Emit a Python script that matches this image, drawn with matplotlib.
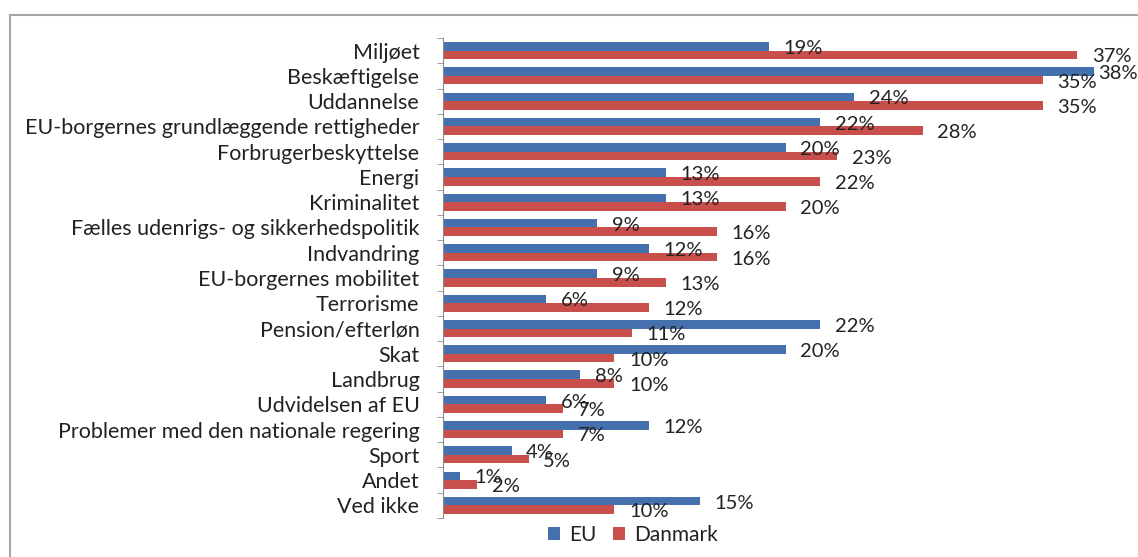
import matplotlib.pyplot as plt
import matplotlib.patches as mpatches
import numpy as np

# Data
kategorier = ['Miljøet', 'Beskæftigelse', 'Uddannelse',
              'EU-borgernes grundlæggende rettigheder', 'Forbrugerbeskyttelse',
              'Energi', 'Kriminalitet', 'Fælles udenrigs- og sikkerhedspolitik',
              'Indvandring', 'EU-borgernes mobilitet', 'Terrorisme',
              'Pension/efterløn', 'Skat', 'Landbrug', 'Udvidelsen af EU',
              'Problemer med den nationale regering', 'Sport', 'Andet', 'Ved ikke']
eu = [19, 38, 24, 22, 20, 13, 13, 9, 12, 9, 6, 22, 20, 8, 6, 12, 4, 1, 15]
danmark = [37, 35, 35, 28, 23, 22, 20, 16, 16, 13, 12, 11, 10, 10, 7, 7, 5, 2, 10]

blaa = '#4471AE'
roed = '#C94F4D'
tekst = '#222222'

plt.rcParams['font.family'] = ['Lato', 'DejaVu Sans']

fig = plt.figure(figsize=(11.38, 5.57), dpi=100)
ax = fig.add_axes([443 / 1138, 1 - 518 / 557, (40 * 17.14) / 1138, 480 / 557])

y = np.arange(len(kategorier))
h = 0.34
ax.barh(y - h / 2, eu, height=h, color=blaa, label='EU')
ax.barh(y + h / 2, danmark, height=h, color=roed, label='Danmark')

xmax = 40
ax.set_xlim(0, xmax)
ax.set_ylim(len(kategorier) - 0.5, -0.5)

# Dataetiketter (skubbes ind, hvis de ellers går ud over kanten)
for i in range(len(kategorier)):
    for val, yy in ((eu[i], y[i] - h / 2), (danmark[i], y[i] + h / 2)):
        xpos = min(val + 0.85, xmax - 1.75)
        ax.text(xpos, yy + 0.08, f'{val}%', va='center', ha='left',
                fontsize=14.5, color=tekst, clip_on=False)

# Akser
for s in ['top', 'right', 'bottom']:
    ax.spines[s].set_visible(False)
ax.spines['left'].set_color('#8c8c8c')
ax.set_xticks([])
ax.set_yticks(y)
ax.set_yticklabels(kategorier, fontsize=15.5, color=tekst)
ax.set_yticks(np.arange(-0.5, len(kategorier)), minor=True)
ax.tick_params(axis='y', which='major', length=0, pad=17)
ax.tick_params(axis='y', which='minor', length=4, color='#8c8c8c', direction='out')

# Forklaring
fig.legend(loc='center', bbox_to_anchor=(0.556, 0.04), ncol=2, frameon=False,
           fontsize=15, handlelength=0.6, handleheight=0.6, handletextpad=0.4,
           columnspacing=0.8, labelcolor=tekst)

# Ramme om diagrammet
fig.patches.append(mpatches.Rectangle((10 / 1138, -0.1), 1.2, 1.1 - 15 / 557,
                                      transform=fig.transFigure, fill=False,
                                      edgecolor='#a6a6a6', linewidth=1.5))

fig.savefig('out.png', dpi=100)
